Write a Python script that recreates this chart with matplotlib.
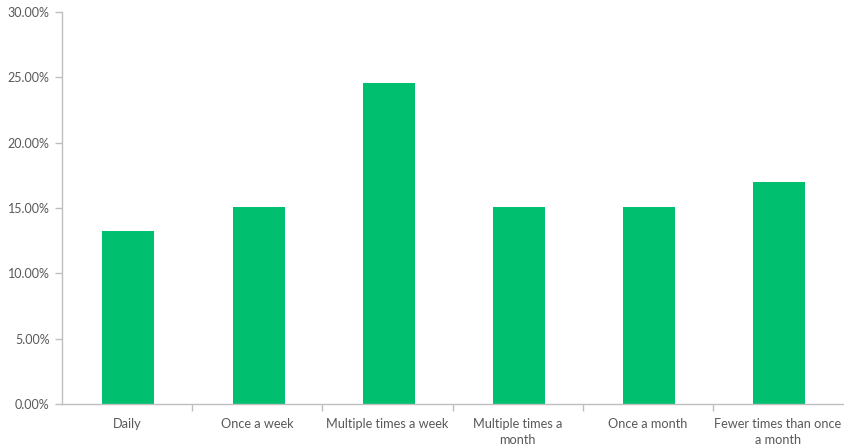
import numpy as np
import matplotlib.pyplot as plt
from matplotlib.ticker import FuncFormatter, FixedLocator

# Data
categories = ['Daily', 'Once a week', 'Multiple times a week',
              'Multiple times a\nmonth', 'Once a month', 'Fewer times than once\na month']
shares = [13.21, 15.09, 24.53, 15.09, 15.09, 16.98]

plt.rcParams['font.family'] = ['Lato', 'DejaVu Sans']

fig = plt.figure(figsize=(8.44, 4.48), dpi=100)
ax = fig.add_axes([62 / 844, 44 / 448, 781 / 844, 392 / 448])

x = np.arange(len(categories))
ax.bar(x + 0.01, shares, width=0.4, color='#00BF6F', zorder=2)

ax.set_xlim(-0.5, len(categories) - 0.5)
ax.set_ylim(0, 30)
ax.set_yticks(np.arange(0, 31, 5))
ax.yaxis.set_major_formatter(FuncFormatter(lambda v, p: f'{v:.2f}%'))

# category labels centred, tick marks at the boundaries
ax.set_xticks(x)
ax.set_xticklabels(categories, linespacing=1.45)
ax.xaxis.set_minor_locator(FixedLocator(np.arange(0.5, len(categories) - 1, 1)))
ax.tick_params(axis='x', which='major', length=0, pad=10, labelsize=9.2, labelcolor='#595959')
ax.tick_params(axis='x', which='minor', length=5, color='#bfbfbf', width=1)
ax.tick_params(axis='y', length=5, color='#bfbfbf', width=1, labelsize=9, labelcolor='#595959', pad=4)

for s in ['top', 'right']:
    ax.spines[s].set_visible(False)
for s in ['left', 'bottom']:
    ax.spines[s].set_color('#bfbfbf')
    ax.spines[s].set_linewidth(1)

fig.savefig('out.png', dpi=100)
